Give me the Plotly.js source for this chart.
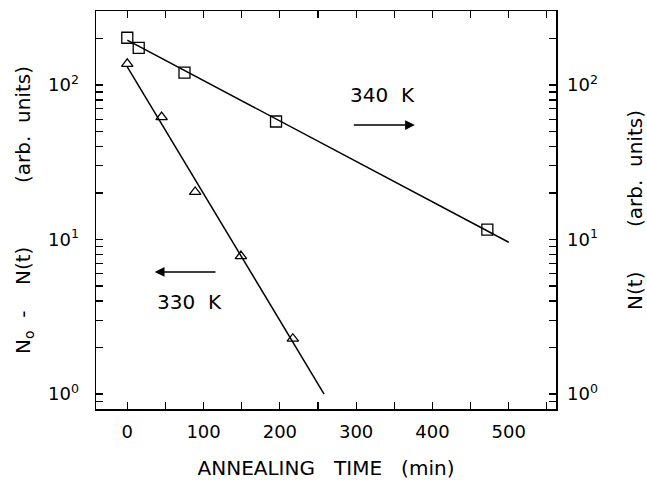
<!DOCTYPE html>
<html>
<head>
<meta charset="utf-8">
<script src="https://cdn.plot.ly/plotly-3.0.1.min.js"></script>
<style>html,body{margin:0;padding:0;background:#fff;}</style>
</head>
<body>
<div id="chart" style="width:647px;height:480px;"></div>
<script>
// Data
const t340 = [0, 15, 75, 195, 472];
const n340 = [202, 174, 120, 58, 11.6];
const t330 = [0, 45, 89, 149, 217];
const n330 = [137, 62, 20.3, 7.8, 2.28];
// Fitted lines (end points)
const fit340_t = [0, 500];
const fit340_n = [195, 9.6];
const fit330_t = [0, 258];
const fit330_n = [131, 1.0];
// Tick positions and labels
const xTickVals = [0, 50, 100, 150, 200, 250, 300, 350, 400, 450, 500, 550];
const xTickText = ['0', '', '100', '', '200', '', '300', '', '400', '', '500', ''];
const yTickVals = [0.8, 0.9, 1, 2, 3, 4, 5, 6, 7, 8, 9, 10, 20, 30, 40, 50, 60, 70, 80, 90, 100, 200, 300];
const yTickText = ['', '', '10<sup>0</sup>', '', '', '', '', '', '', '', '', '10<sup>1</sup>',
                   '', '', '', '', '', '', '', '', '10<sup>2</sup>', '', ''];

const FONT = 'DejaVu Sans';
const NB = '\u00A0';
const sp = n => NB.repeat(n);

const yRange = [Math.log10(0.8), Math.log10(301)];

const traces = [
  {x: fit340_t, y: fit340_n, mode: 'lines', yaxis: 'y2', line: {color: '#000', width: 1.5}, showlegend: false, hoverinfo: 'skip'},
  {x: fit330_t, y: fit330_n, mode: 'lines', line: {color: '#000', width: 1.5}, showlegend: false, hoverinfo: 'skip'},
  {x: t340, y: n340, mode: 'markers', yaxis: 'y2', name: '340 K',
   marker: {symbol: 'square-open', size: 11, color: '#000', line: {width: 1.3, color: '#000'}}},
  {x: t330, y: n330, mode: 'markers', name: '330 K',
   marker: {symbol: 'triangle-up-open', size: 10, color: '#000', line: {width: 1.3, color: '#000'}}}
];

const yCommon = {
  type: 'log', range: yRange, tickmode: 'array', tickvals: yTickVals, ticktext: yTickText,
  ticks: 'inside', ticklen: 7, tickwidth: 1.2, tickcolor: '#000',
  showline: true, linecolor: '#000', linewidth: 1.5, showgrid: false, zeroline: false,
  tickfont: {family: FONT, size: 18, color: '#000'}, ticklabelstandoff: 12
};

const layout = {
  width: 647, height: 480,
  margin: {l: 96, r: 91, t: 11, b: 71},
  paper_bgcolor: '#fff', plot_bgcolor: '#fff',
  showlegend: false,
  font: {family: FONT, color: '#000'},
  xaxis: {
    range: [-41, 562], tickmode: 'array', tickvals: xTickVals, ticktext: xTickText,
    ticks: 'inside', ticklen: 7, tickwidth: 1.2, tickcolor: '#000',
    showline: true, mirror: 'ticks', linecolor: '#000', linewidth: 1.5,
    showgrid: false, zeroline: false,
    tickfont: {family: FONT, size: 18, color: '#000'}, ticklabelstandoff: 6,
    title: {text: 'ANNEALING' + sp(3) + 'TIME' + sp(3) + '(min)', font: {family: FONT, size: 20, color: '#000'}, standoff: 26}
  },
  yaxis: Object.assign({}, yCommon, {
    side: 'left',
    title: {text: 'N<sub>o</sub>' + sp(2) + '-' + sp(4) + 'N(t)' + sp(10) + '(arb.' + sp(2) + 'units)', font: {family: FONT, size: 20, color: '#000'}, standoff: 12}
  }),
  yaxis2: Object.assign({}, yCommon, {
    side: 'right', overlaying: 'y', ticklabelstandoff: 6,
    title: {text: 'N(t)' + sp(7) + '(arb.' + sp(2) + 'units)', font: {family: FONT, size: 20, color: '#000'}, standoff: 31}
  }),
  annotations: [
    {x: 334, y: Math.log10(86), xref: 'x', yref: 'y', text: '340' + sp(2) + 'K', showarrow: false,
     font: {family: FONT, size: 20, color: '#000'}},
    {x: 377, y: Math.log10(55), ax: 295, ay: Math.log10(55), xref: 'x', yref: 'y', axref: 'x', ayref: 'y',
     text: '', showarrow: true, arrowhead: 2, arrowsize: 1.3, arrowwidth: 1.5, arrowcolor: '#000', standoff: 0, startstandoff: 0},
    {x: 81, y: Math.log10(3.94), xref: 'x', yref: 'y', text: '330' + sp(2) + 'K', showarrow: false,
     font: {family: FONT, size: 20, color: '#000'}},
    {x: 36, y: Math.log10(6.17), ax: 117.6, ay: Math.log10(6.17), xref: 'x', yref: 'y', axref: 'x', ayref: 'y',
     text: '', showarrow: true, arrowhead: 2, arrowsize: 1.3, arrowwidth: 1.5, arrowcolor: '#000', standoff: 0, startstandoff: 0}
  ]
};

Plotly.newPlot('chart', traces, layout, {displayModeBar: false, staticPlot: true});
</script>
</body>
</html>
